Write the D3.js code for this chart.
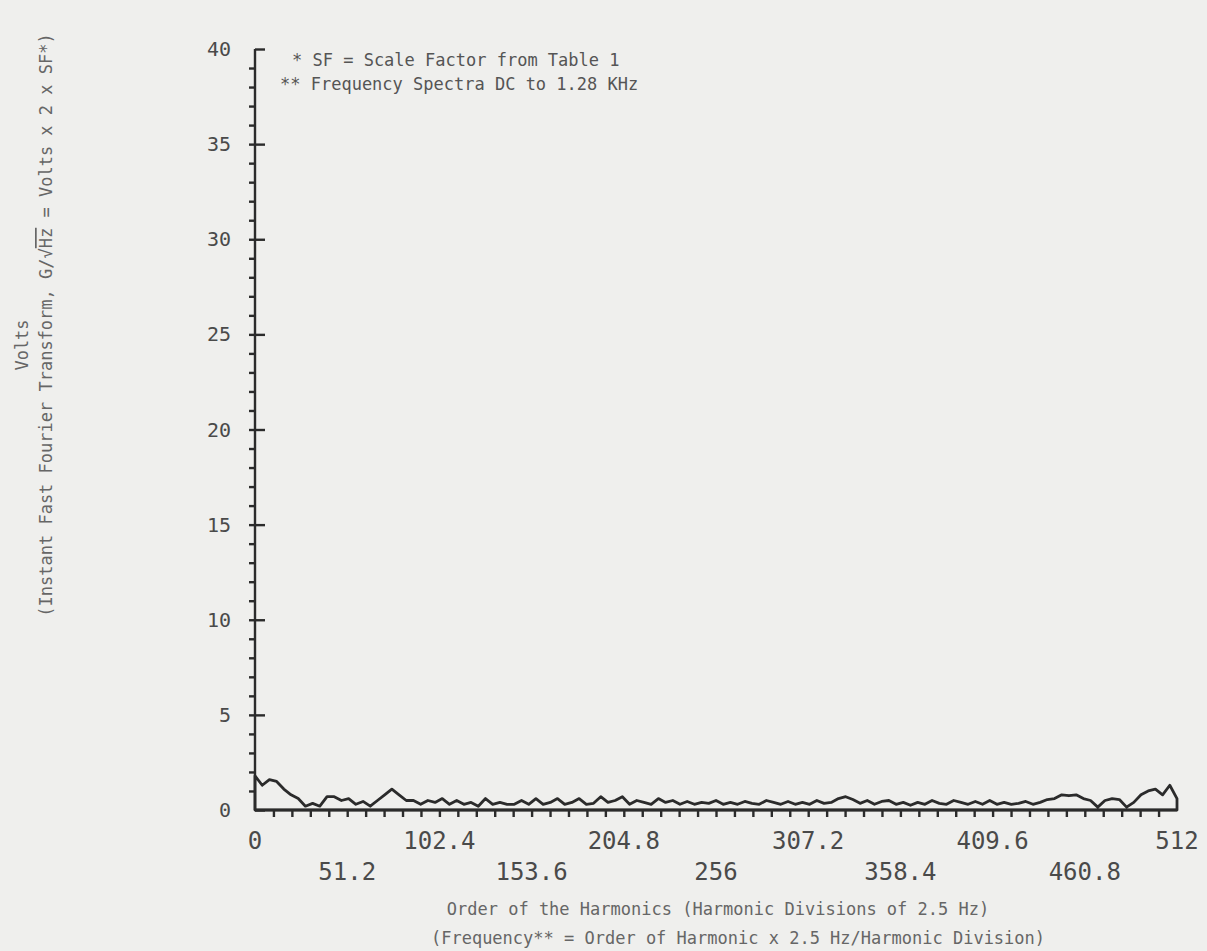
<!DOCTYPE html>
<html>
<head>
<meta charset="utf-8">
<script src="https://cdn.jsdelivr.net/npm/d3@7"></script>
<style>
  body { margin: 0; background: #efefed; }
  text { font-family: "DejaVu Sans Mono", monospace; }
</style>
</head>
<body>
<div id="chart-area"></div>
<script>
// SVG Size
let width = 1207,
	height = 951;

// harmonic order, sampled every 4 divisions
let harmonics = d3.range(0, 513, 4);
// volts
let volts = [
	1.8, 1.3, 1.6, 1.5, 1.1, 0.8, 0.6, 0.2, 0.35, 0.2, 0.7, 0.7, 0.5, 0.6, 0.3, 0.45,
	0.2, 0.5, 0.8, 1.1, 0.8, 0.5, 0.5, 0.3, 0.5,
	0.4, 0.6, 0.3, 0.5, 0.3, 0.4, 0.2, 0.6, 0.3, 0.4, 0.3, 0.3, 0.5, 0.3, 0.6, 0.3,
	0.4, 0.6, 0.3, 0.4, 0.6, 0.3, 0.35, 0.7, 0.4, 0.5, 0.7, 0.3, 0.5, 0.4, 0.3, 0.6,
	0.4, 0.5, 0.3, 0.45, 0.3, 0.4, 0.35, 0.5, 0.3, 0.4, 0.3, 0.45, 0.35, 0.3, 0.5, 0.4,
	0.3, 0.45, 0.3, 0.4, 0.3, 0.5, 0.35, 0.4, 0.6, 0.7, 0.55, 0.35, 0.5, 0.3, 0.45, 0.5,
	0.3, 0.4, 0.25, 0.4, 0.3, 0.5, 0.35, 0.3, 0.5, 0.4, 0.3, 0.45, 0.3, 0.5, 0.3, 0.4,
	0.3, 0.35, 0.45, 0.3, 0.4, 0.55, 0.6, 0.8, 0.75, 0.8, 0.6, 0.5, 0.15, 0.5, 0.6, 0.55,
	0.15, 0.4, 0.8, 1.0, 1.1, 0.8, 1.3, 0.6
];

let xTicksTop = [0, 102.4, 204.8, 307.2, 409.6, 512];
let xTicksBottom = [51.2, 153.6, 256, 358.4, 460.8];
let yTicks = [0, 5, 10, 15, 20, 25, 30, 35, 40];

let data = harmonics.map((h, i) => ({h: h, v: volts[i]}));

let svg = d3.select('#chart-area').append('svg')
	.attr('width', width)
	.attr('height', height);

let xScale = d3.scaleLinear()
	.domain([0, 512])
	.range([255, 1177]);

let yScale = d3.scaleLinear()
	.domain([0, 40])
	.range([810, 49]);

let ink = "#2b2b2b";

// y axis: major ticks inside (every 5), minor ticks outside (every 1)
let yMajor = d3.axisRight(yScale)
	.tickValues(yTicks)
	.tickSize(10)
	.tickFormat("");
let yMinor = d3.axisLeft(yScale)
	.tickValues(d3.range(1, 40))
	.tickSize(6)
	.tickFormat("");

let gy = svg.append('g')
	.attr('class', 'y-axis axis')
	.attr("transform", "translate(" + xScale(0) + ",0)")
	.call(yMajor);
svg.append('g')
	.attr('class', 'y-axis-minor axis')
	.attr("transform", "translate(" + xScale(0) + ",0)")
	.call(yMinor)
	.select(".domain").remove();

gy.select(".domain").attr("d", "M0," + yScale(40) + "V" + yScale(0));
svg.selectAll(".axis line, .axis path")
	.attr("stroke", ink)
	.attr("stroke-width", 2.4);

svg.append('g').selectAll("text")
	.data(yTicks)
	.enter()
	.append("text")
	.attr("x", 231)
	.attr("y", d => yScale(d))
	.attr("dy", "0.35em")
	.attr("text-anchor", "end")
	.attr("font-size", 20)
	.attr("fill", "#4a4a4a")
	.text(d => d);

// x axis ticks every 10.24 harmonics, pointing down
let xAxis = d3.axisBottom(xScale)
	.tickValues(d3.range(1, 50).map(i => i * 10.24))
	.tickSize(7)
	.tickFormat("");
svg.append('g')
	.attr('class', 'x-axis axis')
	.attr("transform", "translate(0," + yScale(0) + ")")
	.call(xAxis)
	.call(g => g.selectAll("line").attr("stroke", ink).attr("stroke-width", 2.4))
	.call(g => g.select(".domain").attr("stroke", ink).attr("stroke-width", 2.6).attr("d", "M" + xScale(0) + ",0H" + xScale(512)));

svg.append('g').selectAll("text")
	.data(xTicksTop)
	.enter()
	.append("text")
	.attr("x", d => xScale(d))
	.attr("y", 841)
	.attr("dy", "0.35em")
	.attr("text-anchor", "middle")
	.attr("font-size", 24)
	.attr("fill", "#4a4a4a")
	.text(d => d);

svg.append('g').selectAll("text")
	.data(xTicksBottom)
	.enter()
	.append("text")
	.attr("x", d => xScale(d))
	.attr("y", 872)
	.attr("dy", "0.35em")
	.attr("text-anchor", "middle")
	.attr("font-size", 24)
	.attr("fill", "#4a4a4a")
	.text(d => d);

// spectrum trace, closed down to the baseline
let trace = d3.area()
	.x(d => xScale(d.h))
	.y0(yScale(0))
	.y1(d => yScale(d.v));

svg.append("path")
	.datum(data)
	.attr("d", trace)
	.attr("fill", "none")
	.attr("stroke", ink)
	.attr("stroke-width", 2.8)
	.attr("stroke-linejoin", "round");

// notes
svg.append('text')
	.attr("x", 292)
	.attr("y", 66)
	.attr("font-size", 17)
	.attr("fill", "#555")
	.text("* SF = Scale Factor from Table 1");
svg.append('text')
	.attr("x", 280)
	.attr("y", 90)
	.attr("font-size", 17)
	.attr("fill", "#555")
	.text("** Frequency Spectra DC to 1.28 KHz");

// axis titles
svg.append('text')
	.attr("x", 718)
	.attr("y", 915)
	.attr("text-anchor", "middle")
	.attr("font-size", 17)
	.attr("fill", "#666")
	.text("Order of the Harmonics (Harmonic Divisions of 2.5 Hz)");
svg.append('text')
	.attr("x", 738)
	.attr("y", 944)
	.attr("text-anchor", "middle")
	.attr("font-size", 17)
	.attr("fill", "#666")
	.text("(Frequency** = Order of Harmonic x 2.5 Hz/Harmonic Division)");

svg.append('text')
	.attr("transform", "translate(28,345) rotate(-90)")
	.attr("text-anchor", "middle")
	.attr("font-size", 17)
	.attr("fill", "#666")
	.text("Volts");

let yTitle = svg.append('text')
	.attr("transform", "translate(52,325) rotate(-90)")
	.attr("text-anchor", "middle")
	.attr("font-size", 17)
	.attr("fill", "#666");
yTitle.append("tspan").text("(Instant Fast Fourier Transform, G/√");
yTitle.append("tspan").attr("text-decoration", "overline").text("Hz");
yTitle.append("tspan").text(" = Volts x 2 x SF*)");
</script>
</body>
</html>
